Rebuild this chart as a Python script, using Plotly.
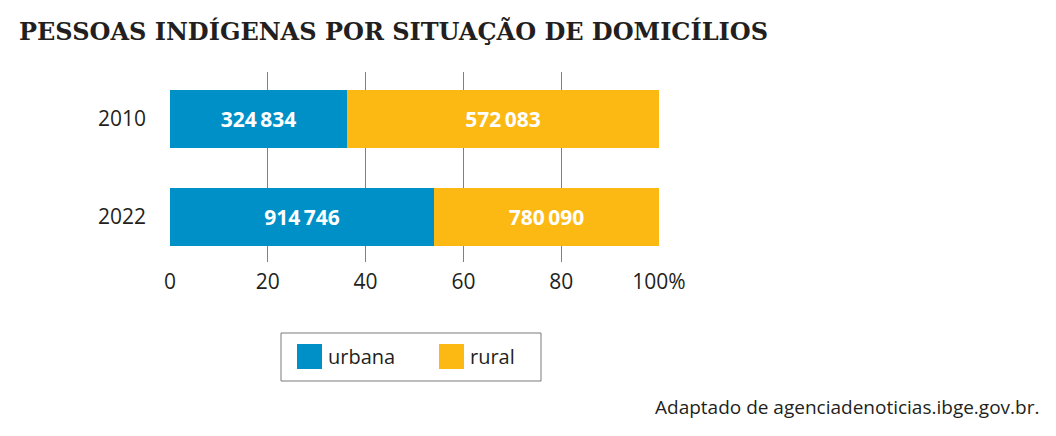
import plotly.graph_objects as go

# data
years = ["2010", "2022"]
urbana = [324834, 914746]
rural = [572083, 780090]
x_ticks = [0, 20, 40, 60, 80, 100]
x_tick_labels = ["0", "20", "40", "60", "80", "100%"]

BLUE = "#0090C8"
YELLOW = "#FDB913"
TEXT = "#231F20"
SANS = "Open Sans"

# reference pixel geometry; the page body adds an 8px margin, so the
# figure itself is made 8px smaller on the top/left side
W, H = 1056, 436
L, R, T, B = 170, 397, 72, 174
OFF = 8
PW = W - L - R
PH = H - T - B


def px_x(x):
    # reference pixel x -> paper coordinate
    return (x - L) / PW


def px_y(y):
    # reference pixel y (from top) -> paper coordinate
    return 1 - (y - T) / PH


def fmt(v):
    return f"{v:,}".replace(",", "\u2009")


totals = [u + r for u, r in zip(urbana, rural)]
urbana_pct = [u / t * 100 for u, t in zip(urbana, totals)]
rural_pct = [r / t * 100 for r, t in zip(rural, totals)]

label_font = dict(family=SANS, size=21, color="white", weight="bold")

fig = go.Figure()

fig.add_trace(
    go.Bar(y=years,
           x=urbana_pct,
           orientation="h",
           marker=dict(color=BLUE, line=dict(width=0)),
           text=[fmt(v) for v in urbana],
           textposition="inside",
           insidetextanchor="middle",
           textfont=label_font,
           width=0.59,
           showlegend=False,
           hoverinfo="skip"))

fig.add_trace(
    go.Bar(y=years,
           x=rural_pct,
           orientation="h",
           marker=dict(color=YELLOW, line=dict(width=0)),
           text=[fmt(v) for v in rural],
           textposition="inside",
           insidetextanchor="middle",
           textfont=label_font,
           width=0.59,
           showlegend=False,
           hoverinfo="skip"))

fig.update_layout(
    width=W - OFF,
    height=H - OFF,
    barmode="stack",
    bargap=0,
    margin=dict(l=L - OFF, r=R, t=T - OFF, b=B, pad=0),
    paper_bgcolor="white",
    plot_bgcolor="white",
    font=dict(family=SANS, color=TEXT),
)

fig.update_xaxes(range=[0, 100],
                 tickvals=x_ticks,
                 ticktext=x_tick_labels,
                 showgrid=True,
                 gridcolor="#808080",
                 gridwidth=1,
                 zeroline=False,
                 showline=False,
                 ticks="",
                 tickfont=dict(family=SANS, size=21, color=TEXT),
                 ticklabelstandoff=5,
                 fixedrange=True)

fig.update_yaxes(type="category",
                 categoryorder="array",
                 categoryarray=years,
                 range=[1.46, -0.48],
                 showgrid=False,
                 zeroline=False,
                 showline=False,
                 ticks="",
                 tickfont=dict(family=SANS, size=21, color=TEXT),
                 ticklabelstandoff=23,
                 fixedrange=True)

# title
fig.add_annotation(text="PESSOAS INDÍGENAS POR SITUAÇÃO DE DOMICÍLIOS",
                   xref="paper", yref="paper",
                   x=px_x(17), y=px_y(31),
                   xanchor="left", yanchor="middle",
                   showarrow=False,
                   font=dict(family="DejaVu Serif", size=24, color=TEXT,
                             weight="bold"))

# legend box drawn by hand so the swatches match the reference size
fig.add_shape(type="rect", xref="paper", yref="paper",
              x0=px_x(281), x1=px_x(541), y0=px_y(333), y1=px_y(381),
              line=dict(color="#7a7a7a", width=1), fillcolor="white")
legend_items = [("urbana", BLUE, 297), ("rural", YELLOW, 439)]
for name, color, x0 in legend_items:
    fig.add_shape(type="rect", xref="paper", yref="paper",
                  x0=px_x(x0), x1=px_x(x0 + 25),
                  y0=px_y(344), y1=px_y(369),
                  line=dict(width=0), fillcolor=color)
    fig.add_annotation(text=name, xref="paper", yref="paper",
                       x=px_x(x0 + 29), y=px_y(356),
                       xanchor="left", yanchor="middle",
                       showarrow=False,
                       font=dict(family=SANS, size=20, color=TEXT))

# source
fig.add_annotation(text="Adaptado de agenciadenoticias.ibge.gov.br.",
                   xref="paper", yref="paper",
                   x=px_x(1041), y=px_y(407),
                   xanchor="right", yanchor="middle",
                   showarrow=False,
                   font=dict(family=SANS, size=19, color=TEXT))

fig.write_html("out.html")
